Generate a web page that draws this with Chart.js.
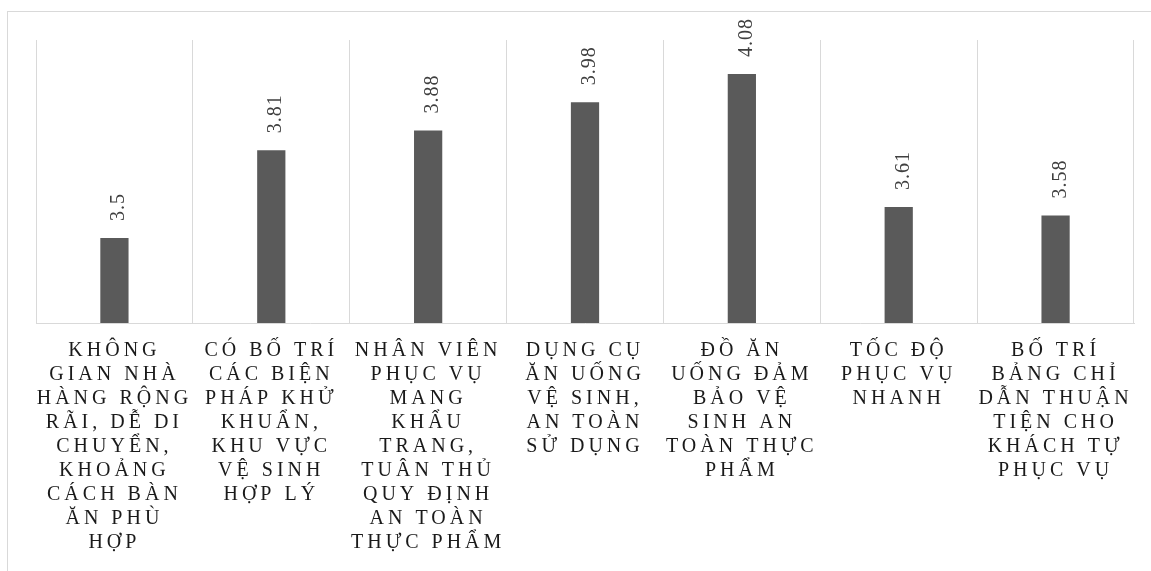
<!DOCTYPE html>
<html>
<head>
  <meta charset="utf-8">
  <title>Đánh giá an toàn vệ sinh</title>
  <script src="https://cdn.jsdelivr.net/npm/chart.js"></script>
  <style>
    html, body { margin: 0; padding: 0; background: #fff; overflow: hidden; }
    .frame { position: absolute; left: 7px; top: 11px; width: 1300px; height: 700px; border: 1px solid #d9d9d9; box-sizing: border-box; }
    .wrap { position: absolute; left: 0; top: 0; width: 1151px; height: 571px; }
  </style>
</head>
<body>
  <div class="frame"></div>
  <div class="wrap"><canvas id="chart"></canvas></div>

  <script>
    const categories = [
      ['KHÔNG', 'GIAN NHÀ', 'HÀNG RỘNG', 'RÃI, DỄ DI', 'CHUYỂN,', 'KHOẢNG', 'CÁCH BÀN', 'ĂN PHÙ', 'HỢP'],
      ['CÓ BỐ TRÍ', 'CÁC BIỆN', 'PHÁP KHỬ', 'KHUẨN,', 'KHU VỰC', 'VỆ SINH', 'HỢP LÝ'],
      ['NHÂN VIÊN', 'PHỤC VỤ', 'MANG', 'KHẨU', 'TRANG,', 'TUÂN THỦ', 'QUY ĐỊNH', 'AN TOÀN', 'THỰC PHẨM'],
      ['DỤNG CỤ', 'ĂN UỐNG', 'VỆ SINH,', 'AN TOÀN', 'SỬ DỤNG'],
      ['ĐỒ ĂN', 'UỐNG ĐẢM', 'BẢO VỆ', 'SINH AN', 'TOÀN THỰC', 'PHẨM'],
      ['TỐC ĐỘ', 'PHỤC VỤ', 'NHANH'],
      ['BỐ TRÍ', 'BẢNG CHỈ', 'DẪN THUẬN', 'TIỆN CHO', 'KHÁCH TỰ', 'PHỤC VỤ']
    ];
    const scores = [3.5, 3.81, 3.88, 3.98, 4.08, 3.61, 3.58];
    const yMin = 3.2;
    const yMax = 4.2;

    const SERIF = '"Liberation Serif", "Times New Roman", serif';

    // wide tracking on the category labels, set before measuring and drawing
    const tracking = {
      id: 'tracking',
      beforeLayout(chart) { chart.ctx.letterSpacing = '4px'; },
      beforeDraw(chart) { chart.ctx.letterSpacing = '4px'; }
    };

    // vertical value labels above each bar
    const barValues = {
      id: 'barValues',
      afterDatasetsDraw(chart) {
        const ctx = chart.ctx;
        const meta = chart.getDatasetMeta(0);
        ctx.save();
        ctx.letterSpacing = '1px';
        ctx.font = `20px ${SERIF}`;
        ctx.fillStyle = '#404040';
        ctx.textAlign = 'left';
        ctx.textBaseline = 'alphabetic';
        meta.data.forEach((bar, i) => {
          ctx.save();
          ctx.translate(bar.x + 10, bar.y - 17);
          ctx.rotate(-Math.PI / 2);
          ctx.fillText(String(scores[i]), 0, 0);
          ctx.restore();
        });
        ctx.restore();
      }
    };

    new Chart(document.getElementById('chart'), {
      type: 'bar',
      data: {
        labels: categories,
        datasets: [{
          data: scores,
          backgroundColor: '#5a5a5a',
          borderWidth: 0,
          barPercentage: 0.18,
          categoryPercentage: 1
        }]
      },
      options: {
        responsive: true,
        maintainAspectRatio: false,
        animation: false,
        layout: { padding: { left: 36, right: 17, top: 40, bottom: 0 } },
        plugins: { legend: { display: false }, tooltip: { enabled: false } },
        scales: {
          x: {
            grid: { color: '#d9d9d9', lineWidth: 1, drawTicks: false, offset: true },
            border: { color: '#d9d9d9', width: 1 },
            ticks: {
              color: '#1a1a1a',
              font: { family: SERIF, size: 20, lineHeight: 1.2 },
              padding: 16,
              maxRotation: 0,
              minRotation: 0,
              autoSkip: false
            }
          },
          y: { display: false, min: yMin, max: yMax }
        }
      },
      plugins: [tracking, barValues]
    });
  </script>
</body>
</html>
